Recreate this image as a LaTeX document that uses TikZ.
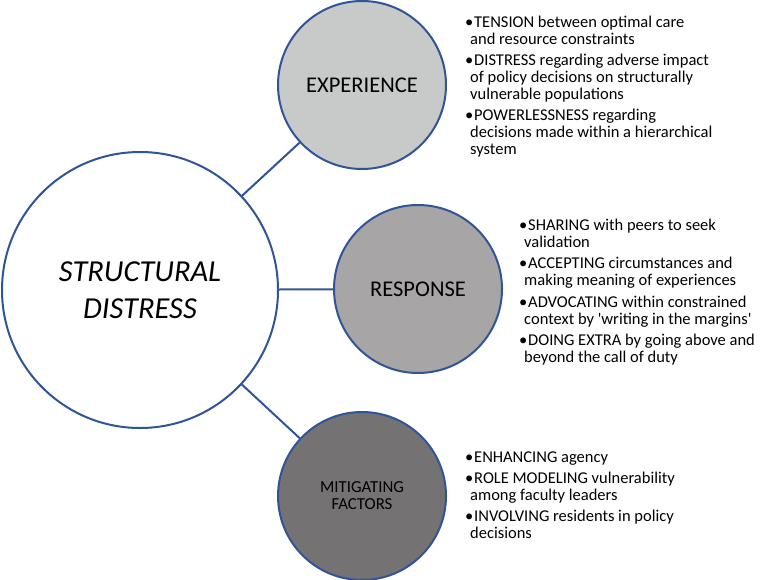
\documentclass[tikz,border=0pt]{standalone}
\usepackage{fontspec}
\setmainfont{Carlito}
\definecolor{rimblue}{HTML}{2F5597}
\definecolor{expgray}{HTML}{C8C9C9}
\definecolor{respgray}{HTML}{A7A5A6}
\definecolor{mitgray}{HTML}{747273}
\newcommand{\bul}{\makebox[9pt][l]{\textbullet}}
\newcommand{\cont}{\hspace*{5pt}}
\tikzset{
  theme/.style={circle, draw=rimblue, line width=2pt, inner sep=0pt, align=center},
  bullets/.style={anchor=north west, align=left, inner sep=0pt,
    font=\fontsize{16.5}{17}\selectfont}
}
\begin{document}
\begin{tikzpicture}[x=1pt,y=-1pt]
  \useasboundingbox (0,0) rectangle (762,580);
  \node[theme, fill=white, minimum size=276pt,
    font=\fontsize{30.5}{37}\selectfont\itshape] (core) at (140,290) {STRUCTURAL\\DISTRESS};
  \node[theme, fill=expgray, minimum size=168pt,
    font=\fontsize{22.5}{25}\selectfont] (exp) at (362,85) {EXPERIENCE};
  \node[theme, fill=respgray, minimum size=168pt,
    font=\fontsize{22.5}{25}\selectfont] (resp) at (418,289) {RESPONSE};
  \node[theme, fill=mitgray, minimum size=168pt,
    font=\fontsize{16.8}{17}\selectfont] (mit) at (362,496) {MITIGATING\\FACTORS};
  \begin{scope}[draw=rimblue, line width=2pt]
    \draw (core) -- (exp);
    \draw (core) -- (resp);
    \draw (core) -- (mit);
  \end{scope}
  \node[bullets] (explist) at (465,16) {%
    \bul TENSION between optimal care\\
    \cont and resource constraints\\[4pt]
    \bul DISTRESS regarding adverse impact\\
    \cont of policy decisions on structurally\\
    \cont vulnerable populations\\[4pt]
    \bul POWERLESSNESS regarding\\
    \cont decisions made within a hierarchical\\
    \cont system};
  \node[bullets] (resplist) at (519,219) {%
    \bul SHARING with peers to seek\\
    \cont validation\\[4.3pt]
    \bul ACCEPTING circumstances and\\
    \cont making meaning of experiences\\[4.3pt]
    \bul ADVOCATING within constrained\\
    \cont context by \textquotesingle writing in the margins\textquotesingle\\[4.3pt]
    \bul DOING EXTRA by going above and\\
    \cont beyond the call of duty};
  \node[bullets] (mitlist) at (465,452) {%
    \bul ENHANCING agency\\[4pt]
    \bul ROLE MODELING vulnerability\\
    \cont among faculty leaders\\[4pt]
    \bul INVOLVING residents in policy\\
    \cont decisions};
\end{tikzpicture}
\end{document}
